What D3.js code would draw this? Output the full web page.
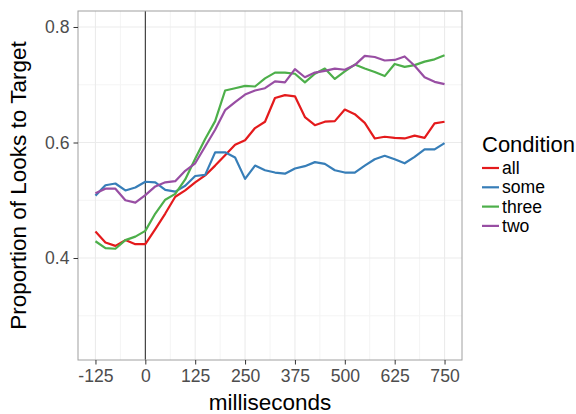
<!DOCTYPE html>
<html>
<head>
<meta charset="utf-8">
<script src="https://cdn.jsdelivr.net/npm/d3@7"></script>
<style>
  body { margin: 0; background: #fff; }
  text { font-family: "Liberation Sans", Arial, sans-serif; }
</style>
</head>
<body>
<script>
// time bins, 25ms apart
var ms = d3.range(-125, 751, 25)

var conditions = ['all', 'some', 'three', 'two']
var colors = ['#E41A1C', '#377EB8', '#4DAF4A', '#984EA3']

var allVals = [0.446, 0.427, 0.421, 0.431, 0.424, 0.424, 0.450, 0.477, 0.506, 0.517, 0.531, 0.543,
  0.560, 0.578, 0.596, 0.604, 0.625, 0.636, 0.677, 0.682, 0.680, 0.644, 0.630, 0.636,
  0.637, 0.657, 0.649, 0.634, 0.607, 0.610, 0.608, 0.607, 0.612, 0.608, 0.633, 0.636]
var someVals = [0.508, 0.526, 0.529, 0.517, 0.522, 0.532, 0.531, 0.518, 0.515, 0.525, 0.542, 0.544,
  0.583, 0.583, 0.574, 0.537, 0.560, 0.552, 0.548, 0.546, 0.555, 0.559, 0.566, 0.563,
  0.552, 0.548, 0.548, 0.560, 0.571, 0.577, 0.571, 0.564, 0.575, 0.588, 0.588, 0.599]
var threeVals = [0.429, 0.417, 0.416, 0.431, 0.437, 0.447, 0.477, 0.501, 0.511, 0.536, 0.572, 0.606,
  0.637, 0.690, 0.694, 0.698, 0.697, 0.711, 0.721, 0.721, 0.719, 0.704, 0.719, 0.728,
  0.710, 0.723, 0.735, 0.728, 0.722, 0.715, 0.736, 0.731, 0.734, 0.740, 0.744, 0.751]
var twoVals = [0.512, 0.520, 0.520, 0.500, 0.496, 0.509, 0.524, 0.531, 0.533, 0.551, 0.564, 0.593,
  0.622, 0.656, 0.670, 0.683, 0.690, 0.694, 0.706, 0.704, 0.727, 0.713, 0.721, 0.724,
  0.728, 0.726, 0.734, 0.750, 0.748, 0.742, 0.743, 0.749, 0.733, 0.713, 0.705, 0.701]

var xTicks = [-125, 0, 125, 250, 375, 500, 625, 750]
var yTicks = [0.4, 0.6, 0.8]

var series = conditions.map((name, i) => ({
  name, color: colors[i],
  values: [allVals, someVals, threeVals, twoVals][i].map((v, j) => ({ms: ms[j], v}))
}))

var width = 576, height = 414
var margin = {left: 78, top: 11, right: 114, bottom: 54}
var pw = width - margin.left - margin.right
var ph = height - margin.top - margin.bottom

var svg = d3.select('body').append('svg')
  .attr('width', width).attr('height', height)

var x = d3.scaleLinear().domain([-168.75, 793.75]).range([0, pw])
var y = d3.scaleLinear().domain([0.2234, 0.8277]).range([ph, 0])

var g = svg.append('g').attr('transform', `translate(${margin.left},${margin.top})`)

// minor grid
var xMinor = xTicks.slice(0, -1).map((d, i) => (d + xTicks[i + 1]) / 2)
var yMinor = [0.3, 0.5, 0.7]
g.selectAll('.xminor').data(xMinor).join('line')
  .attr('x1', d => x(d)).attr('x2', d => x(d)).attr('y1', 0).attr('y2', ph)
  .attr('stroke', '#f4f4f4').attr('stroke-width', 1)
g.selectAll('.yminor').data(yMinor).join('line')
  .attr('y1', d => y(d)).attr('y2', d => y(d)).attr('x1', 0).attr('x2', pw)
  .attr('stroke', '#f4f4f4').attr('stroke-width', 1)

// major grid
g.selectAll('.xmajor').data(xTicks).join('line')
  .attr('x1', d => x(d)).attr('x2', d => x(d)).attr('y1', 0).attr('y2', ph)
  .attr('stroke', '#ebebeb').attr('stroke-width', 1.1)
g.selectAll('.ymajor').data(yTicks).join('line')
  .attr('y1', d => y(d)).attr('y2', d => y(d)).attr('x1', 0).attr('x2', pw)
  .attr('stroke', '#ebebeb').attr('stroke-width', 1.1)

// vertical line at 0
g.append('line')
  .attr('x1', x(0)).attr('x2', x(0)).attr('y1', 0).attr('y2', ph)
  .attr('stroke', '#222').attr('stroke-width', 1)

var line = d3.line().x(d => x(d.ms)).y(d => y(d.v))
g.selectAll('.series').data(series).join('path')
  .attr('d', d => line(d.values))
  .attr('fill', 'none')
  .attr('stroke', d => d.color)
  .attr('stroke-width', 2.2)
  .attr('stroke-linejoin', 'round')

// panel border
g.append('rect')
  .attr('x', 0).attr('y', 0).attr('width', pw).attr('height', ph)
  .attr('fill', 'none').attr('stroke', '#a0a0a0').attr('stroke-width', 1)

// axes
var xAxis = d3.axisBottom(x).tickValues(xTicks).tickSize(4.5).tickPadding(5).tickFormat(d => String(d))
var yAxis = d3.axisLeft(y).tickValues(yTicks).tickSize(4.5).tickPadding(4).tickFormat(d3.format('.1f'))

g.append('g').attr('transform', `translate(0,${ph})`).call(xAxis)
  .call(a => a.select('.domain').remove())
  .call(a => a.selectAll('line').attr('stroke', '#333'))
  .call(a => a.selectAll('text').attr('fill', '#4d4d4d').style('font-size', '17.6px'))

g.append('g').call(yAxis)
  .call(a => a.select('.domain').remove())
  .call(a => a.selectAll('line').attr('stroke', '#333'))
  .call(a => a.selectAll('text').attr('fill', '#4d4d4d').style('font-size', '17.6px'))

// axis titles
svg.append('text')
  .attr('x', margin.left + pw / 2).attr('y', 410)
  .attr('text-anchor', 'middle')
  .style('font-size', '22.5px')
  .text('milliseconds')

svg.append('text')
  .attr('transform', `translate(26,${margin.top + ph / 2}) rotate(-90)`)
  .attr('text-anchor', 'middle')
  .style('font-size', '22.5px')
  .text('Proportion of Looks to Target')

// legend
var legend = svg.append('g').attr('transform', 'translate(482,0)')
legend.append('text')
  .attr('x', 0).attr('y', 152)
  .style('font-size', '22px')
  .text('Condition')

var items = legend.selectAll('.item').data(series).join('g')
  .attr('transform', (d, i) => `translate(0,${168 + i * 19.3})`)
items.append('line')
  .attr('x1', 0).attr('x2', 17).attr('y1', 0).attr('y2', 0)
  .attr('stroke', d => d.color).attr('stroke-width', 2.2)
items.append('text')
  .attr('x', 20).attr('y', 0).attr('dy', '0.35em')
  .style('font-size', '17.6px')
  .text(d => d.name)
</script>
</body>
</html>
